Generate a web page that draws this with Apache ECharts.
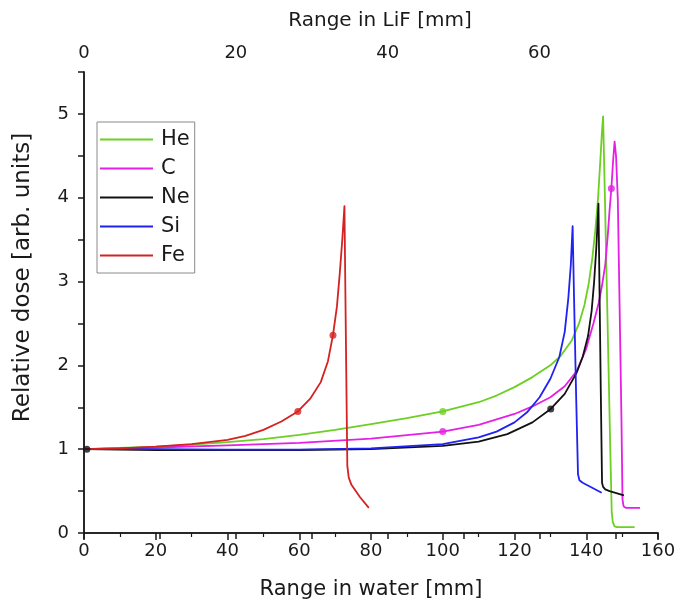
<!DOCTYPE html>
<html>
<head>
<meta charset="utf-8">
<script src="https://cdn.jsdelivr.net/npm/echarts@6/dist/echarts.min.js"></script>
<style>
  html, body { margin: 0; padding: 0; background: #fff; }
  #chart { width: 675px; height: 604px; }
</style>
</head>
<body>
<div id="chart"></div>
<script>
// depth in water [mm] and relative dose
var heX = [0, 10, 20, 30, 40, 50, 60, 70, 80, 90, 100, 110, 115, 120, 125, 130, 133, 136, 138, 139.5, 140.7, 141.7, 142.5, 143.3, 144.0, 144.4, 144.7, 145.2, 145.7, 146.2, 146.7, 147.1, 147.4, 147.9, 148.6, 153.5];
var heY = [1.0, 1.015, 1.03, 1.055, 1.085, 1.12, 1.17, 1.23, 1.3, 1.37, 1.45, 1.56, 1.64, 1.74, 1.86, 2.0, 2.12, 2.3, 2.5, 2.72, 2.98, 3.28, 3.6, 4.0, 4.5, 4.8, 4.97, 4.0, 3.0, 2.0, 1.0, 0.25, 0.13, 0.08, 0.07, 0.07];

var cX = [0, 20, 40, 60, 80, 100, 110, 120, 125, 130, 134, 137.3, 140, 142, 143.5, 144.5, 145.3, 146, 146.5, 147.0, 147.5, 147.9, 148.3, 148.8, 149.3, 149.8, 150.1, 150.4, 151, 155];
var cY = [1.0, 1.02, 1.045, 1.075, 1.125, 1.21, 1.29, 1.42, 1.51, 1.62, 1.75, 1.93, 2.2, 2.5, 2.75, 2.98, 3.2, 3.55, 3.85, 4.11, 4.45, 4.67, 4.5, 3.98, 2.7, 1.4, 0.4, 0.32, 0.3, 0.3];

var neX = [0, 20, 40, 60, 80, 100, 110, 118, 125, 130.1, 134, 137.3, 139, 140.5, 141.5, 142.2, 142.8, 143.2, 143.4, 143.7, 144.05, 144.4, 144.7, 145.3, 146.5, 150.5];
var neY = [1.0, 0.99, 0.99, 0.99, 1.0, 1.04, 1.09, 1.18, 1.32, 1.48, 1.66, 1.91, 2.1, 2.35, 2.65, 3.0, 3.4, 3.75, 3.93, 2.9, 1.7, 0.6, 0.55, 0.52, 0.5, 0.45];

var siX = [0, 20, 40, 60, 80, 100, 110, 115, 120, 123.5, 127, 130, 132.5, 134, 135, 135.7, 136.2, 136.6, 137.2, 137.7, 138.1, 139, 144.3];
var siY = [1.0, 1.0, 0.995, 0.995, 1.01, 1.06, 1.14, 1.21, 1.32, 1.44, 1.62, 1.84, 2.1, 2.4, 2.8, 3.2, 3.66, 2.8, 1.6, 0.7, 0.63, 0.6, 0.48];

var feX = [0, 10, 20, 30, 40, 45, 50, 55, 59.6, 63, 66, 68, 69.4, 70.5, 71.3, 72.0, 72.6, 72.8, 73.1, 73.4, 73.8, 74.5, 76.9, 79.4];
var feY = [1.0, 1.01, 1.03, 1.06, 1.11, 1.16, 1.23, 1.33, 1.45, 1.6, 1.8, 2.05, 2.36, 2.7, 3.1, 3.5, 3.9, 3.1, 1.94, 0.8, 0.66, 0.58, 0.43, 0.3];

// dots drawn on the curves
var heDots = [[100, 1.45]];
var cDots = [[100, 1.21], [147.0, 4.11]];
var neDots = [[0.8, 1.0], [130.1, 1.48]];
var feDots = [[59.6, 1.45], [69.4, 2.36]];

var names = ['He', 'C', 'Ne', 'Si', 'Fe'];
var colors = ['#6dcf24', '#e51fe5', '#111111', '#1f22f0', '#d42222'];

var lifMax = 75.6;

function pairs(xs, ys) {
  var res = [];
  for (var i = 0; i < xs.length; i++) res.push([xs[i], ys[i]]);
  return res;
}

var font = 'DejaVu Sans, Liberation Sans, Arial, sans-serif';
var black = '#1a1a1a';

var chart = echarts.init(document.getElementById('chart'));

var allX = [heX, cX, neX, siX, feX];
var allY = [heY, cY, neY, siY, feY];
var series = [];
for (var i = 0; i < names.length; i++) {
  series.push({
    name: names[i],
    type: 'line',
    xAxisIndex: 0,
    yAxisIndex: 0,
    data: pairs(allX[i], allY[i]),
    showSymbol: false,
    smooth: false,
    lineStyle: { color: colors[i], width: 1.8, join: 'round' },
    itemStyle: { color: colors[i] },
    z: 2 + i
  });
}
var dotSets = [[heDots, colors[0]], [cDots, colors[1]], [neDots, colors[2]], [feDots, colors[4]]];
dotSets.forEach(function (d) {
  series.push({
    type: 'scatter',
    xAxisIndex: 0,
    yAxisIndex: 0,
    data: d[0],
    symbolSize: 7,
    itemStyle: { color: d[1] },
    z: 10
  });
});

var option = {
  backgroundColor: '#fff',
  animation: false,
  textStyle: { fontFamily: font },
  grid: { left: 84, right: 17, top: 72, bottom: 71, containLabel: false, outerBoundsMode: 'none' },
  legend: {
    data: names,
    orient: 'vertical',
    left: 97,
    top: 122,
    icon: 'rect',
    itemWidth: 53,
    itemHeight: 2,
    itemGap: 8,
    padding: [7, 5, 7, 3],
    borderColor: '#8a8a8a',
    borderWidth: 1,
    selectedMode: false,
    textStyle: { fontSize: 21, color: black, fontFamily: font, padding: [0, 0, 0, 3] }
  },
  xAxis: [{
    type: 'value',
    position: 'bottom',
    min: 0,
    max: 160,
    interval: 20,
    name: 'Range in water [mm]',
    nameLocation: 'middle',
    nameGap: 46,
    nameTextStyle: { fontSize: 21, color: black },
    axisLine: { lineStyle: { color: black, width: 1.5 } },
    axisTick: { inside: false, length: 7, lineStyle: { color: black, width: 1.5 } },
    minorTick: { show: true, splitNumber: 2, length: 4, lineStyle: { color: black, width: 1.2 } },
    axisLabel: { fontSize: 18, color: black, margin: 9 },
    splitLine: { show: false }
  }, {
    type: 'value',
    position: 'top',
    min: 0,
    max: lifMax,
    interval: 10,
    name: 'Range in LiF [mm]',
    nameLocation: 'middle',
    nameGap: 41,
    nameTextStyle: { fontSize: 20, color: black, padding: [0, 0, 0, 18] },
    axisLine: { lineStyle: { color: black, width: 1.5 } },
    axisTick: { inside: true, length: 6, lineStyle: { color: black, width: 1.5 } },
    axisLabel: {
      fontSize: 18, color: black, margin: 10,
      formatter: function (v) { return v % 20 === 0 ? String(v) : ''; }
    },
    splitLine: { show: false }
  }],
  yAxis: [{
    type: 'value',
    position: 'left',
    min: 0,
    max: 5.5,
    interval: 0.5,
    name: 'Relative dose [arb. units]',
    nameLocation: 'middle',
    nameGap: 49,
    nameTextStyle: { fontSize: 23, color: black, padding: [0, 0, 0, 50] },
    axisLine: { show: true, lineStyle: { color: black, width: 1.5 } },
    axisTick: { inside: false, length: 6, lineStyle: { color: black, width: 1.5 } },
    axisLabel: {
      fontSize: 18, color: black, margin: 15,
      formatter: function (v) { return v % 1 === 0 ? String(v) : ''; }
    },
    splitLine: { show: false }
  }, {
    type: 'value',
    position: 'right',
    min: 0,
    max: 5.5,
    interval: 0.5,
    axisLine: { show: true, lineStyle: { color: black, width: 1.5 } },
    axisTick: { inside: true, length: 6, lineStyle: { color: black, width: 1.5 } },
    axisLabel: { show: false },
    splitLine: { show: false }
  }],
  series: series
};

chart.setOption(option);
</script>
</body>
</html>
